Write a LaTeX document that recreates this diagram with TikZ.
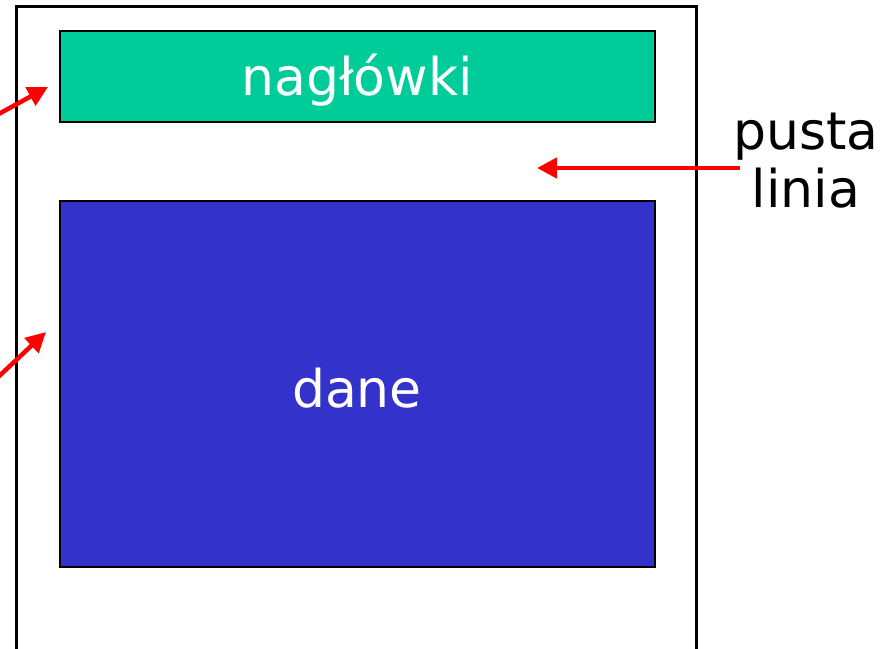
\documentclass[tikz,border=0pt]{standalone}
\usepackage{fontspec}
\setmainfont{DejaVu Sans}
\usetikzlibrary{arrows.meta}
\definecolor{hdrgreen}{HTML}{00CC99}
\definecolor{datablue}{HTML}{3333CC}
\tikzset{
  box/.style={draw=black, line width=2pt, inner sep=0pt, anchor=north west},
  redarrow/.style={draw=red, line width=4.5pt, -{Triangle[length=20pt,width=20pt]}},
  lbl/.style={font=\fontsize{52}{58}\selectfont}
}
\begin{document}
\begin{tikzpicture}[x=1pt,y=-1pt]
\useasboundingbox (0,0) rectangle (888,648);
\begin{scope}
\clip (0,0) rectangle (888,648);
\draw[line width=3pt] (16,660) -- (16,6) -- (696,6) -- (696,660);
\end{scope}
\node[box, fill=hdrgreen, minimum width=595pt, minimum height=91pt] (hdr) at (59,30) {};
\node[box, fill=datablue, minimum width=595pt, minimum height=366pt] (data) at (59,200) {};
\node[lbl, text=white] (hdrtxt) at (357,80) {nagłówki};
\node[lbl, text=white] (datatxt) at (357,388) {dane};
\node[lbl, align=center, inner sep=0pt] (pl) at (806,161) {pusta\\linia};
\coordinate (a1s) at (-5,116);
\coordinate (a1e) at (48,87);
\coordinate (a2s) at (-5,380);
\coordinate (a2e) at (46,332);
\coordinate (a3s) at (740,168);
\coordinate (a3e) at (537,168);
\draw[redarrow] (a1s) -- (a1e);
\draw[redarrow] (a2s) -- (a2e);
\draw[redarrow] (a3s) -- (a3e);
\end{tikzpicture}
\end{document}
